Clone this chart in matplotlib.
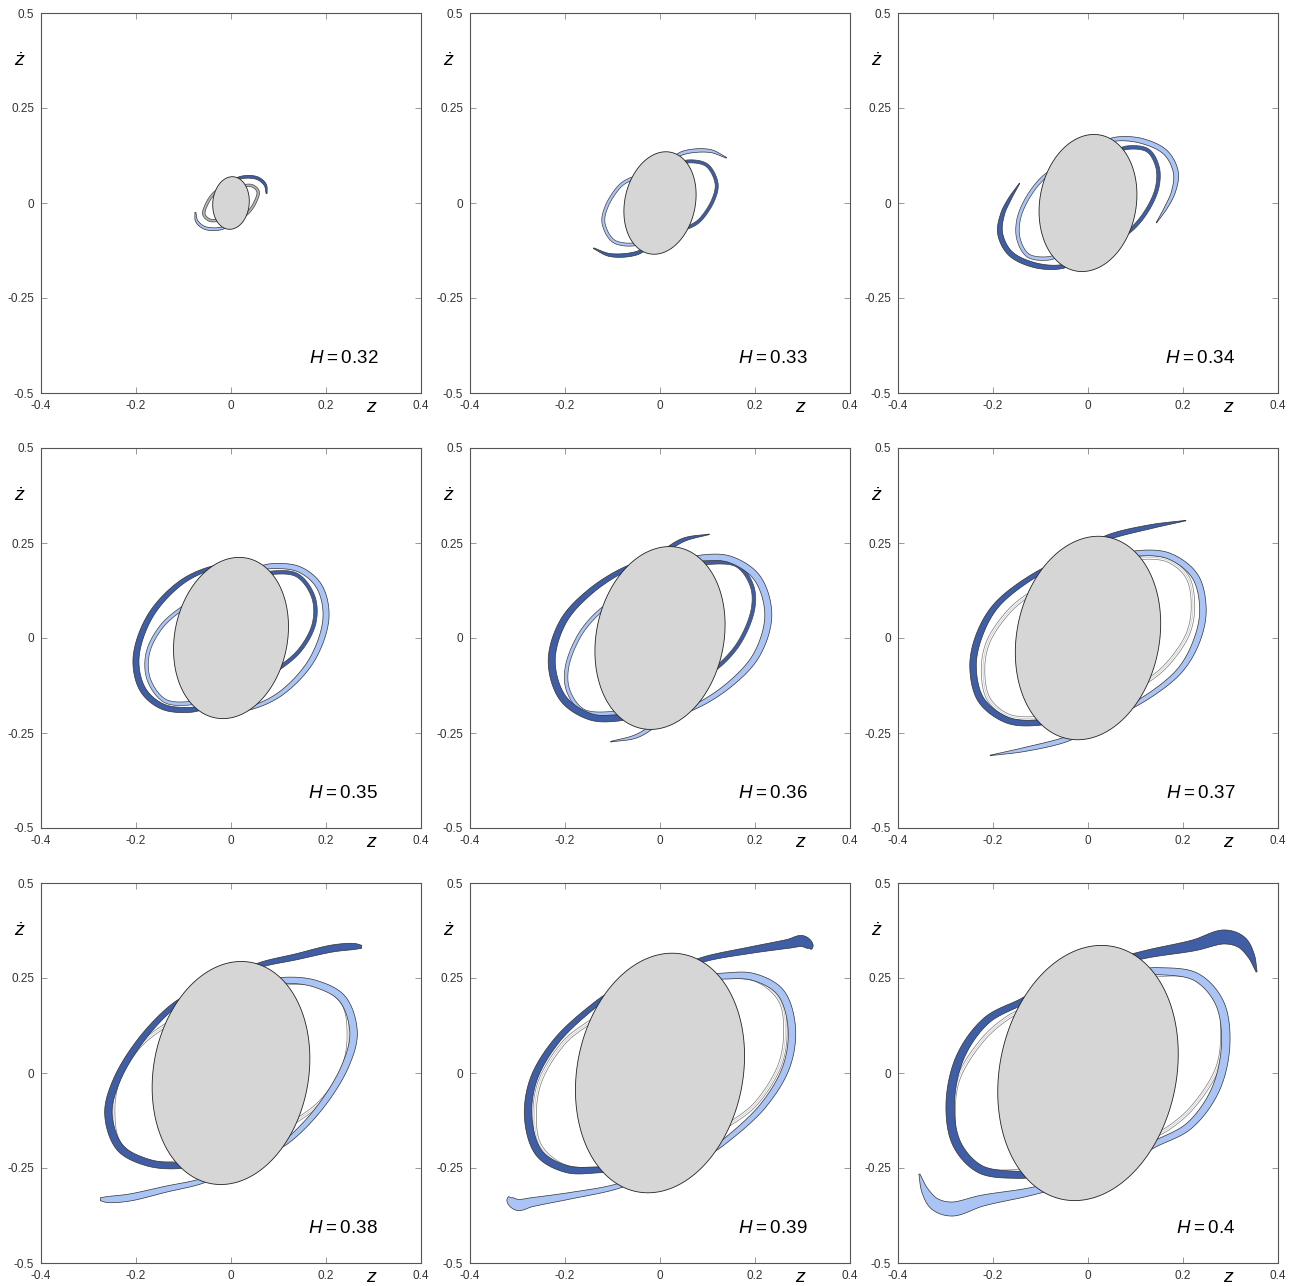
import numpy as np
import matplotlib
matplotlib.use("Agg")
import matplotlib.pyplot as plt

plt.rcParams['font.family'] = ['Liberation Sans', 'DejaVu Sans']
plt.rcParams['mathtext.fontset'] = 'custom'
plt.rcParams['mathtext.rm'] = 'Liberation Sans'
plt.rcParams['mathtext.it'] = 'Liberation Sans:italic'

# energy of each panel
H_VALUES = [0.32, 0.33, 0.34, 0.35, 0.36, 0.37, 0.38, 0.39, 0.40]
H_LABELS = ['0.32', '0.33', '0.34', '0.35', '0.36', '0.37', '0.38', '0.39', '0.4']

# grey forbidden region: z = A cos t, zdot = D cos t + B sin t
ELL_A = [0.0385, 0.076, 0.103, 0.121, 0.137, 0.153, 0.166, 0.178, 0.190]
ELL_B = [0.069, 0.133, 0.179, 0.210, 0.238, 0.265, 0.291, 0.312, 0.332]
ELL_D = [0.005, 0.022, 0.022, 0.030, 0.035, 0.038, 0.038, 0.045, 0.050]

# outer manifold tube (z, zdot, width in px); the mirrored tube is (-z, -zdot)
OUTER_PIECES = [
    [[(0.0, 0.05, 2.2), (0.018, 0.066, 2.5), (0.054, 0.066, 2.8), (0.072, 0.048, 2.4), (0.075, 0.025, 1.0)]],
    [[(-0.02, -0.11, 2.5), (-0.049, -0.132, 3.5), (-0.105, -0.137, 3), (-0.14, -0.119, 0.8)]],
    [[(-0.144, 0.052, 0.5), (-0.165, 0.01, 3), (-0.18, -0.03, 4), (-0.185, -0.08, 5), (-0.164, -0.132, 5),
      (-0.114, -0.163, 5), (-0.058, -0.168, 4), (-0.02, -0.15, 4)]],
    [[(0.0, 0.19, 3), (-0.044, 0.183, 3.5), (-0.107, 0.144, 4.5), (-0.171, 0.056, 5.5), (-0.2, -0.055, 6),
      (-0.185, -0.137, 6), (-0.143, -0.181, 5.5), (-0.086, -0.189, 5), (-0.05, -0.18, 4)]],
    [[(0.0, 0.22, 4), (0.049, 0.258, 3.5), (0.104, 0.273, 0.5)],
     [(-0.02, 0.2, 4), (-0.07, 0.183, 4.5), (-0.147, 0.122, 5.5), (-0.204, 0.043, 6.5), (-0.228, -0.062, 7),
      (-0.204, -0.159, 7), (-0.147, -0.207, 6.5), (-0.091, -0.211, 6), (-0.05, -0.2, 5)]],
    [[(0.0, 0.24, 4), (0.047, 0.267, 5), (0.132, 0.293, 4), (0.206, 0.309, 0.5)],
     [(-0.05, 0.2, 4), (-0.1, 0.174, 4.5), (-0.19, 0.09, 5.5), (-0.228, 0.01, 6.5), (-0.242, -0.075, 6.5),
      (-0.225, -0.163, 6.5), (-0.17, -0.216, 6), (-0.107, -0.223, 5.5), (-0.06, -0.21, 5)]],
    [[(0.02, 0.26, 5), (0.061, 0.284, 5), (0.138, 0.306, 6), (0.215, 0.328, 7), (0.26, 0.333, 6), (0.275, 0.332, 3)],
     [(-0.07, 0.21, 4.5), (-0.114, 0.183, 5), (-0.185, 0.094, 6), (-0.241, -0.02, 7), (-0.258, -0.108, 7.5),
      (-0.234, -0.196, 7.5), (-0.177, -0.235, 7), (-0.114, -0.244, 6), (-0.07, -0.235, 5)]],
    [[(0.05, 0.28, 5), (0.098, 0.301, 5), (0.189, 0.323, 6.5), (0.27, 0.34, 9), (0.3, 0.347, 11), (0.316, 0.334, 7),
      (0.319, 0.326, 1)],
     [(-0.09, 0.22, 4.5), (-0.133, 0.183, 5), (-0.217, 0.086, 6), (-0.267, -0.02, 7), (-0.277, -0.125, 7.5),
      (-0.253, -0.213, 7.5), (-0.196, -0.253, 7), (-0.133, -0.255, 6), (-0.09, -0.25, 5)]],
    [[(0.08, 0.3, 7), (0.132, 0.315, 8), (0.223, 0.336, 11), (0.287, 0.358, 14), (0.322, 0.345, 12),
      (0.343, 0.31, 7), (0.355, 0.266, 1)],
     [(-0.09, 0.23, 5), (-0.135, 0.191, 6), (-0.213, 0.139, 7), (-0.269, 0.042, 8), (-0.29, -0.081, 8.5),
      (-0.276, -0.187, 8.5), (-0.227, -0.253, 8), (-0.149, -0.268, 7), (-0.1, -0.265, 6)]],
]

# inner ring, right half (z, zdot, width px); left half is the mirror
INNER_HALF = [
    [(0.02, 0.045, 2.5), (0.045, 0.045, 2.5), (0.057, 0.03, 2.5), (0.05, 0.0, 2.5), (0.036, -0.025, 2.5), (0.02, -0.04, 2.5)],
    [(0.04, 0.1, 3), (0.056, 0.109, 3), (0.098, 0.1, 3), (0.119, 0.052, 3), (0.112, 0.008, 3), (0.084, -0.045, 3),
     (0.063, -0.062, 3), (0.04, -0.07, 3)],
    [(0.06, 0.13, 3.5), (0.076, 0.144, 3.5), (0.125, 0.139, 3.5), (0.146, 0.096, 3.5), (0.146, 0.043, 3.5),
     (0.125, -0.018, 3.5), (0.09, -0.071, 3.5), (0.05, -0.1, 3.5)],
    [(0.05, 0.16, 3.5), (0.075, 0.17, 3.5), (0.138, 0.166, 3.5), (0.173, 0.109, 3.5), (0.175, 0.039, 3.5),
     (0.145, -0.032, 3.5), (0.096, -0.084, 3.5), (0.06, -0.11, 3.5)],
    [(0.06, 0.19, 3.5), (0.091, 0.197, 3.5), (0.161, 0.192, 3.5), (0.193, 0.139, 3.5), (0.196, 0.078, 3.5),
     (0.168, -0.01, 3.5), (0.126, -0.071, 3.5), (0.09, -0.1, 3.5)],
    [(0.08, 0.2, 3.5), (0.104, 0.21, 3.5), (0.167, 0.205, 3.5), (0.209, 0.161, 3.5), (0.221, 0.085, 3.5),
     (0.21, 0.01, 3.5), (0.165, -0.072, 3.5), (0.125, -0.113, 3.5), (0.1, -0.13, 3.5)],
    [(0.09, 0.225, 3.5), (0.11, 0.235, 3.5), (0.187, 0.231, 3.5), (0.236, 0.183, 3.5), (0.248, 0.11, 3.5),
     (0.238, 0.02, 3.5), (0.192, -0.072, 3.5), (0.138, -0.125, 3.5), (0.11, -0.145, 3.5)],
    [(0.1, 0.245, 3.5), (0.126, 0.253, 3.5), (0.204, 0.244, 3.5), (0.253, 0.191, 3.5), (0.264, 0.112, 3.5),
     (0.252, 0.02, 3.5), (0.2, -0.083, 3.5), (0.147, -0.134, 3.5), (0.12, -0.155, 3.5)],
    [(0.11, 0.25, 3.5), (0.139, 0.257, 3.5), (0.223, 0.253, 3.5), (0.273, 0.2, 3.5), (0.283, 0.112, 3.5),
     (0.273, 0.015, 3.5), (0.22, -0.09, 3.5), (0.167, -0.147, 3.5), (0.13, -0.17, 3.5)],
]

DARK = '#3f5ea6'
LIGHT = '#aac4f6'
GREYRING = '#b4b4b4'
INNER_COLORS = [(GREYRING, GREYRING), (DARK, LIGHT), (DARK, LIGHT), (DARK, LIGHT), (DARK, LIGHT),
                ('white', 'white'), ('white', 'white'), ('white', 'white'), ('white', 'white')]

AX_PX = 380.0


def catmull(P, n=24):
    # centripetal Catmull-Rom through the control points
    P = np.asarray(P, float)
    P = np.vstack([2 * P[0] - P[1], P, 2 * P[-1] - P[-2]])
    out = []
    for i in range(1, len(P) - 2):
        p = P[i - 1:i + 3]
        d = np.hypot(*np.diff(p[:, :2], axis=0).T) ** 0.5
        d = np.maximum(d, 1e-6)
        t = np.concatenate([[0], np.cumsum(d)])
        tt = np.linspace(t[1], t[2], n, endpoint=False)[:, None]
        a1 = (t[1] - tt) / (t[1] - t[0]) * p[0] + (tt - t[0]) / (t[1] - t[0]) * p[1]
        a2 = (t[2] - tt) / (t[2] - t[1]) * p[1] + (tt - t[1]) / (t[2] - t[1]) * p[2]
        a3 = (t[3] - tt) / (t[3] - t[2]) * p[2] + (tt - t[2]) / (t[3] - t[2]) * p[3]
        b1 = (t[2] - tt) / (t[2] - t[0]) * a1 + (tt - t[0]) / (t[2] - t[0]) * a2
        b2 = (t[3] - tt) / (t[3] - t[1]) * a2 + (tt - t[1]) / (t[3] - t[1]) * a3
        out.append((t[2] - tt) / (t[2] - t[1]) * b1 + (tt - t[1]) / (t[2] - t[1]) * b2)
    out.append(P[-2][None])
    return np.vstack(out)


def band(ax, pts, sign, fc, ec='#333333', lw=0.5, z=3, midline=False):
    pts = np.asarray(pts, float)
    # to isotropic axes units
    u = (sign * pts[:, 0] + 0.4) / 0.8
    v = (sign * pts[:, 1] + 0.5) / 1.0
    w = pts[:, 2] / AX_PX
    s = catmull(np.column_stack([u, v, w]))
    du = np.gradient(s[:, 0])
    dv = np.gradient(s[:, 1])
    nrm = np.hypot(du, dv) + 1e-12
    nx, ny = -dv / nrm, du / nrm
    hw = np.clip(s[:, 2], 0, None) / 2
    lu, lv = s[:, 0] + nx * hw, s[:, 1] + ny * hw
    ru, rv = s[:, 0] - nx * hw, s[:, 1] - ny * hw
    pu = np.concatenate([lu, ru[::-1]])
    pv = np.concatenate([lv, rv[::-1]])
    ax.fill(pu * 0.8 - 0.4, pv - 0.5, facecolor=fc, edgecolor=ec, linewidth=lw, zorder=z)
    if midline:
        ax.plot(s[:, 0] * 0.8 - 0.4, s[:, 1] - 0.5, color='#c4c4c4', lw=0.5, zorder=z)


fig = plt.figure(figsize=(13.01, 12.86), dpi=100)
lefts = [41, 470, 898]
tops = [13, 448, 883]

for i, h in enumerate(H_VALUES):
    r, c = divmod(i, 3)
    ax = fig.add_axes([lefts[c] / 1301, 1 - (tops[r] + AX_PX) / 1286, AX_PX / 1301, AX_PX / 1286])

    # inner ring
    fr, fl = INNER_COLORS[i]
    mid = fr == 'white'
    ec_in = '#444444' if not mid else '#7a7a7a'
    band(ax, INNER_HALF[i], 1, fr, ec=ec_in, lw=0.5, z=2, midline=mid)
    band(ax, INNER_HALF[i], -1, fl, ec=ec_in, lw=0.5, z=2, midline=mid)

    # outer tubes
    for piece in OUTER_PIECES[i]:
        band(ax, piece, 1, DARK, z=3)
        band(ax, piece, -1, LIGHT, z=3)

    # grey region
    t = np.linspace(0, 2 * np.pi, 400)
    ez = ELL_A[i] * np.cos(t)
    ezd = ELL_D[i] * np.cos(t) + ELL_B[i] * np.sin(t)
    ax.fill(ez, ezd, facecolor='#d6d6d6', edgecolor='#222222', linewidth=0.6, zorder=5)

    ax.set_xlim(-0.4, 0.4)
    ax.set_ylim(-0.5, 0.5)
    ax.set_xticks([-0.4, -0.2, 0, 0.2, 0.4])
    ax.set_xticklabels(['-0.4', '-0.2', '0', '0.2', '0.4'])
    ax.set_yticks([-0.5, -0.25, 0, 0.25, 0.5])
    ax.set_yticklabels(['-0.5', '-0.25', '0', '0.25', '0.5'])
    ax.tick_params(direction='in', top=True, right=True, length=4, width=0.6, color='#888888',
                   labelsize=8.5, labelcolor='#333333', pad=5)
    for sp in ax.spines.values():
        sp.set_color('#555555')
        sp.set_linewidth(0.8)

    ax.text(0.297, -0.537, r'$z$', fontsize=14, ha='center', va='center', clip_on=False)
    ax.text(-0.445, 0.372, r'$\dot{z}$', fontsize=14, ha='center', va='center', clip_on=False)
    ax.text(0.31, -0.408, r'$H$' + '\u2009=\u2009' + H_LABELS[i], fontsize=13.5, ha='right', va='center')

fig.savefig('out.png', dpi=100)
